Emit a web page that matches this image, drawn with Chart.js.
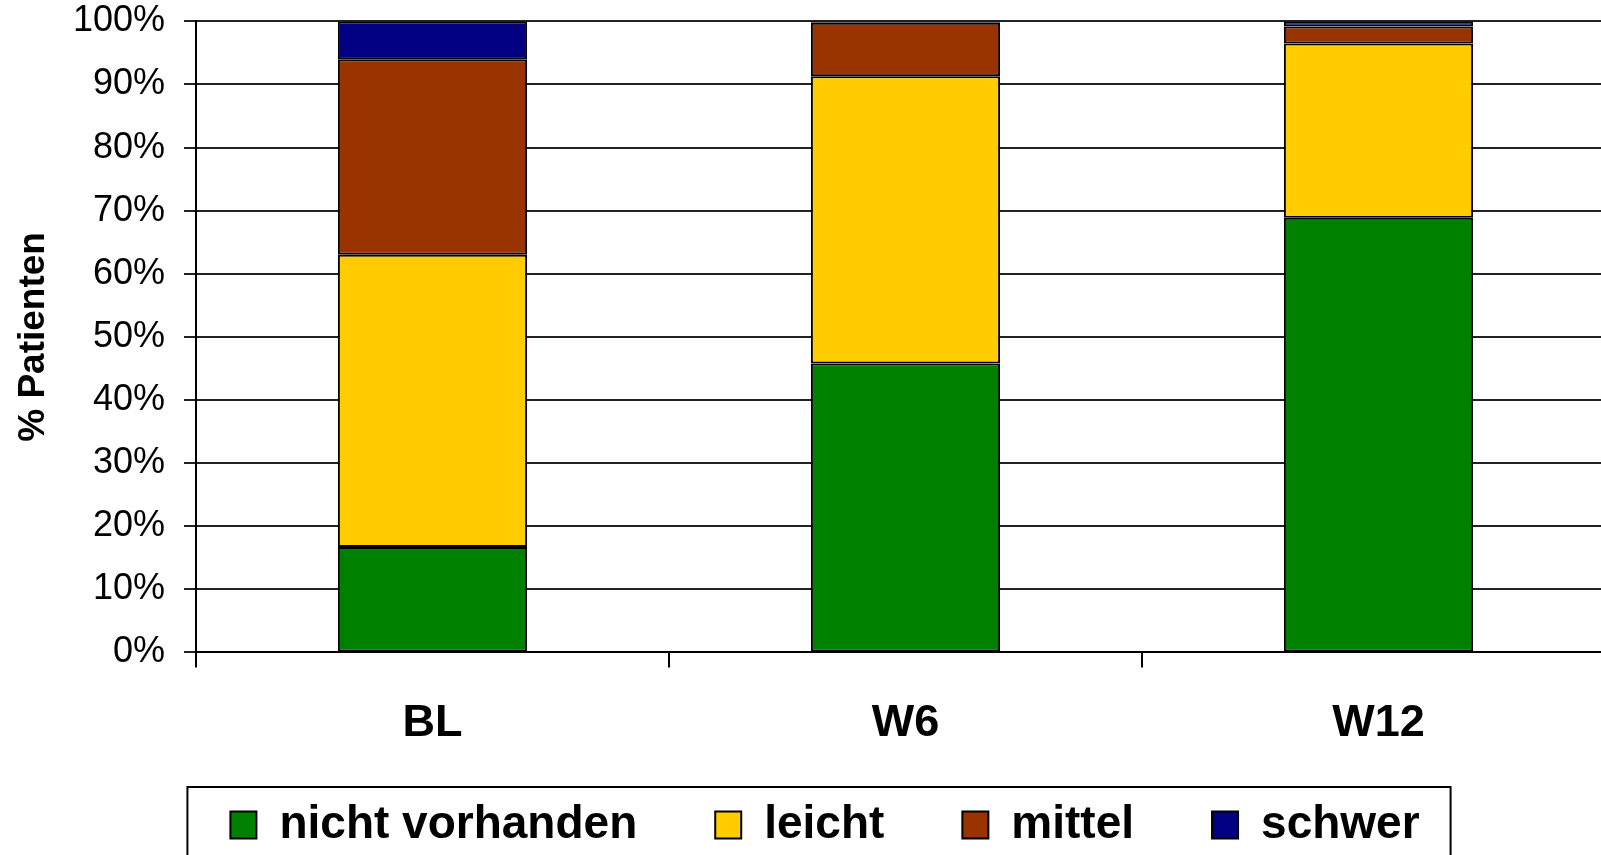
<!DOCTYPE html>
<html>
<head>
<meta charset="utf-8">
<script src="https://cdn.jsdelivr.net/npm/chart.js@4"></script>
<style>
  html, body { margin: 0; padding: 0; background: #fff; overflow: hidden; }
  #wrap { position: absolute; left: 0; top: 0; width: 1615px; height: 858px; }
</style>
</head>
<body>
<div id="wrap"><canvas id="chart"></canvas></div>
<script>
// data (percent of patients)
const categories     = ['BL', 'W6', 'W12'];
const nichtVorhanden = [16.7, 45.8, 68.9];
const leicht         = [46.3, 45.5, 27.6];
const mittel         = [31.0, 8.5, 2.7];
const schwer         = [6.0, 0.2, 0.8];
const yTicks         = [0, 10, 20, 30, 40, 50, 60, 70, 80, 90, 100];

Chart.defaults.font.family = "'Liberation Sans', Arial, sans-serif";
Chart.defaults.color = '#000';

// frame around the legend, like the spreadsheet original
const legendFrame = {
  id: 'legendFrame',
  afterDraw(chart) {
    const boxes = chart.legend && chart.legend.legendHitBoxes;
    if (!boxes || !boxes.length) return;
    const left  = Math.min(...boxes.map(b => b.left)) - 43;
    const right = Math.max(...boxes.map(b => b.left + b.width)) + 31;
    const top   = boxes[0].top - 15;
    const ctx = chart.ctx;
    ctx.save();
    ctx.strokeStyle = '#000';
    ctx.lineWidth = 2;
    ctx.strokeRect(left, top, right - left, 120);
    ctx.restore();
  }
};

function ds(label, data, color) {
  return { label, data, backgroundColor: color, borderColor: '#000', borderWidth: 2, borderSkipped: false };
}

new Chart(document.getElementById('chart'), {
  type: 'bar',
  data: {
    labels: categories,
    datasets: [
      ds('nicht vorhanden', nichtVorhanden, '#008000'),
      ds('leicht', leicht, '#FFCC00'),
      ds('mittel', mittel, '#993300'),
      ds('schwer', schwer, '#000080')
    ]
  },
  options: {
    responsive: true,
    maintainAspectRatio: false,
    animation: false,
    layout: { padding: { top: 0, left: 35, right: 0, bottom: 0 } },
    datasets: { bar: { barPercentage: 0.4, categoryPercentage: 1 } },
    scales: {
      x: {
        stacked: true,
        offset: true,
        grid: { offset: true, drawOnChartArea: false, color: '#000', lineWidth: 2, tickLength: 15 },
        border: { color: '#000', width: 2 },
        ticks: { font: { size: 45, weight: 'bold' }, padding: 29 },
        afterFit: (s) => { s.height = 95; }
      },
      y: {
        stacked: true,
        min: 0,
        max: 100,
        afterBuildTicks: (s) => { s.ticks = yTicks.map(v => ({ value: v })); },
        grid: { color: '#222', lineWidth: 2, tickLength: 12 },
        border: { color: '#000', width: 2 },
        ticks: { font: { size: 36 }, padding: 19, callback: (v) => v + '%' },
        title: { display: true, text: '% Patienten', font: { size: 37, weight: 'bold', lineHeight: 1 }, padding: { top: -20 } },
        afterFit: (s) => {
          s.width = 161;
          // plot top sits at ~21px, only the half label overhang
          s.paddingTop = 21.4;
          s.paddingBottom = 0;
        }
      }
    },
    plugins: {
      legend: {
        position: 'bottom',
        // empty title with negative padding pulls the legend row up towards the axis labels
        title: { display: true, text: '', font: { size: 1, lineHeight: 1 }, padding: { top: -24.4, bottom: 0 } },
        labels: { font: { size: 46, weight: 'bold' }, boxWidth: 26, boxHeight: 27, padding: 78, color: '#000' }
      },
      tooltip: { enabled: false }
    }
  },
  plugins: [legendFrame]
});
</script>
</body>
</html>
